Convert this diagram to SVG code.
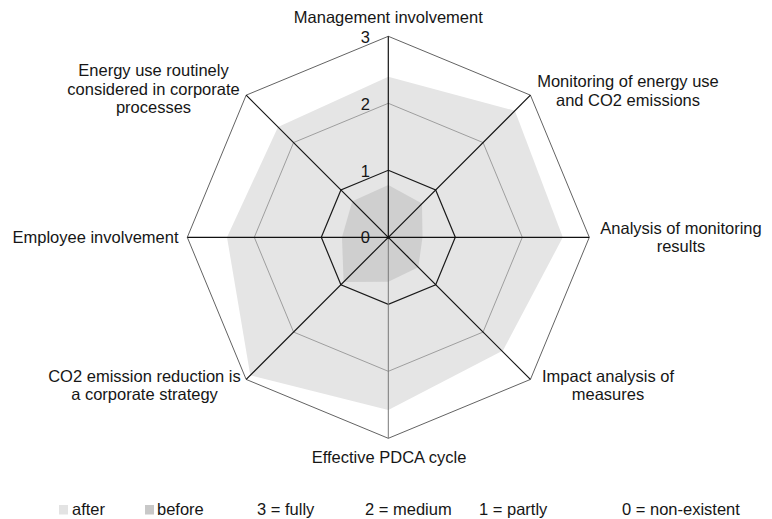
<svg xmlns="http://www.w3.org/2000/svg" width="772" height="519" viewBox="0 0 772 519">
<style>
text{font-family:"Liberation Sans",Arial,Helvetica,sans-serif;font-size:16.5px;fill:#161616}
.c{text-anchor:middle}
.e{text-anchor:end}
.outer{fill:none;stroke:#505050;stroke-width:0.9}
.lvl2{fill:none;stroke:#8c8c8c;stroke-width:0.8}
.lvl1{fill:none;stroke:#1a1a1a;stroke-width:1.2}
.axis{stroke:#111;stroke-width:1.2}
.after{fill:#e5e5e5}
.before{fill:#cfcfcf}
</style>
<rect width="772" height="519" fill="#fff"/>
<g id="data">
<polygon class="after" points="388.3,76.7 514.9,110.7 562.8,237.3 503,350.5 388.3,410 250.3,375.3 227,237.3 278,127"/>
<polygon class="before" points="388.3,185 422,203.6 422.5,237.3 418.3,267.3 388.3,281.7 343.6,282 342,237.3 352.3,201.3"/>
</g>
<g id="grid">
<polygon class="outer" points="388.3,36.3 530.43,95.17 589.3,237.3 530.43,379.43 388.3,438.3 246.17,379.43 187.3,237.3 246.17,95.17"/>
<polygon class="lvl2" points="388.3,103.3 483.05,142.55 522.3,237.3 483.05,332.05 388.3,371.3 293.55,332.05 254.3,237.3 293.55,142.55"/>
<polygon class="lvl1" points="388.3,170.3 435.68,189.92 455.3,237.3 435.68,284.68 388.3,304.3 340.92,284.68 321.3,237.3 340.92,189.92"/>
</g>
<g id="connectors">
<line class="axis" x1="388.3" y1="237.3" x2="388.3" y2="36.3"/>
<line class="axis" x1="388.3" y1="237.3" x2="530.43" y2="95.17"/>
<line class="axis" x1="388.3" y1="237.3" x2="589.3" y2="237.3"/>
<line class="axis" x1="388.3" y1="237.3" x2="530.43" y2="379.43"/>
<line x1="388.3" y1="237.3" x2="388.3" y2="438.3" stroke="#777" stroke-width="1"/>
<line class="axis" x1="388.3" y1="237.3" x2="246.17" y2="379.43"/>
<line class="axis" x1="388.3" y1="237.3" x2="187.3" y2="237.3"/>
<line class="axis" x1="388.3" y1="237.3" x2="246.17" y2="95.17"/>
<circle cx="388.3" cy="237.3" r="1.6" fill="#111"/>
</g>
<g id="scale">
<text class="e" x="370" y="42.5">3</text>
<text class="e" x="370" y="109.5">2</text>
<text class="e" x="370" y="176.5">1</text>
<text class="e" x="370" y="243">0</text>
</g>
<g id="label-management"><text class="c" x="388.3" y="22.7">Management involvement</text></g>
<g id="label-monitoring"><text class="c" x="628" y="87.3">Monitoring of energy use</text><text class="c" x="628" y="105.7">and CO2 emissions</text></g>
<g id="label-analysis"><text class="c" x="681" y="234">Analysis of monitoring</text><text class="c" x="681" y="252.4">results</text></g>
<g id="label-impact"><text class="c" x="608" y="382">Impact analysis of</text><text class="c" x="608" y="400.4">measures</text></g>
<g id="label-pdca"><text class="c" x="389" y="463">Effective PDCA cycle</text></g>
<g id="label-co2"><text class="c" x="144.5" y="382">CO2 emission reduction is</text><text class="c" x="144.5" y="400.4">a corporate strategy</text></g>
<g id="label-employee"><text class="e" x="178.5" y="243.3">Employee involvement</text></g>
<g id="label-energy"><text class="c" x="153.5" y="76">Energy use routinely</text><text class="c" x="153.5" y="94.6">considered in corporate</text><text class="c" x="153.5" y="113.2">processes</text></g>
<g id="legend">
<rect x="59" y="505" width="9" height="9.5" fill="#e3e3e3"/>
<text x="72" y="515">after</text>
<rect x="145" y="505" width="9" height="9.5" fill="#c8c8c8"/>
<text x="157" y="515">before</text>
<text x="257" y="515">3 = fully</text>
<text x="365" y="515">2 = medium</text>
<text x="479" y="515">1 = partly</text>
<text x="622" y="515">0 = non-existent</text>
</g>
</svg>
